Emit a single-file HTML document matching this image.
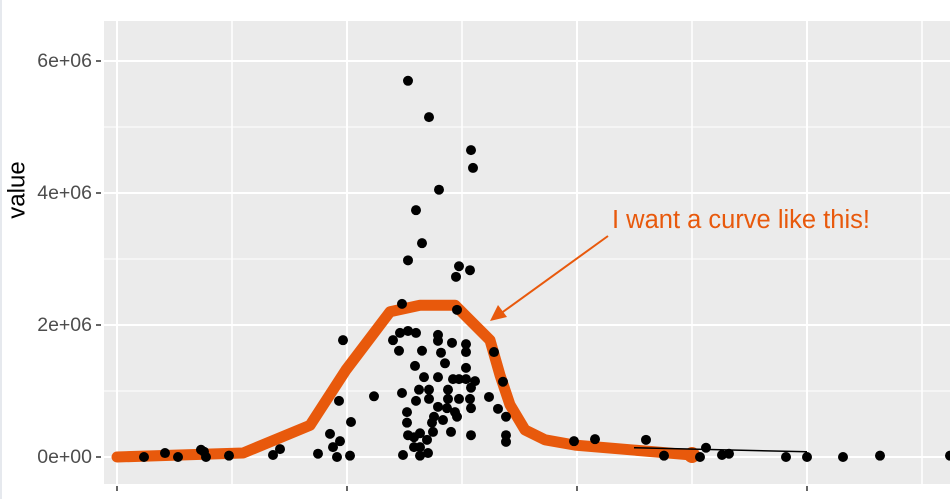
<!DOCTYPE html>
<html><head><meta charset="utf-8"><style>
body{margin:0;background:#fff}
svg{display:block;font-family:"Liberation Sans",sans-serif}
</style></head><body>
<svg id="chart" width="950" height="499">
<rect x="0" y="0" width="950" height="499" fill="#fff"/>
<rect x="0" y="0" width="2" height="499" fill="#e6e9ee"/>
<g id="grid"></g><g id="axes"></g><g id="marks"></g>
<text x="17" y="190" transform="rotate(-90 17 190)" text-anchor="middle" dominant-baseline="central" font-size="24" fill="#000">value</text>
<text x="612" y="228" font-size="25.5" fill="#e8590c">I want a curve like this!</text>
<line x1="608" y1="236" x2="500" y2="314" stroke="#e8590c" stroke-width="2"/>
<polygon points="490,321 498,305 507,317" fill="#e8590c"/>
</svg>
<script>
const yTicks=[0,2,4,6];
const yTickLabels=["0e+00","2e+06","4e+06","6e+06"];
const xMajor=[0,230,460,690];
const pointsX=[27,48,61,84,87,89,112,156,163,201,213,216,220,223,226,222,234,233,257,276,283,285,291,299,282,305,298,307,321,321,335,349,349,324,328,349,321,336,342,349,358,285,302,312,299,312,331,342,353,331,354,372,381,389,389,389,354,354,321,330,338,290,317,326,315,334,290,291,286,303,310,303,311,303,297,297,316,340,377,386,340,291,312,299,305,291,322,342,339,354,356,353,457,478,529,547,583,589,605,612,669,690,726,763,833];
const pointsY=[0,0.06,0,0.11,0.08,0,0.02,0.03,0.12,0.05,0.35,0.15,0,0.24,1.77,0.85,0.53,0.02,0.92,1.77,1.88,2.32,1.91,1.88,1.61,1.61,1.38,1.21,1.85,1.76,1.73,1.71,1.59,1.58,1.42,1.35,1.21,1.18,1.18,1.18,1.15,0.97,1.02,1.02,0.85,0.88,0.88,0.88,0.88,1.02,1.05,0.91,0.73,0.61,0.33,0.23,0.74,0.33,0.76,0.74,0.68,0.68,0.61,0.56,0.52,0.38,0.52,0.33,0.03,0.36,0.26,0.15,0.06,0.02,0.15,0.3,0.38,0.61,1.59,1.14,2.23,5.70,5.15,3.74,3.24,2.98,4.05,2.89,2.73,4.65,4.38,2.83,0.24,0.27,0.26,0.02,0,0.14,0.03,0.05,0,0,0,0.02,0.02];
const curveX=[0,126,193,229,273,303,338,373,383,393,408,428,458,575];
const curveY=[0,0.06,0.48,1.32,2.2,2.3,2.3,1.77,1.24,0.79,0.41,0.26,0.18,0.03];
const segX=[517,690];
const segY=[0.14,0.08];

const NS="http://www.w3.org/2000/svg";
const sx=v=>117+v;
const sy=v=>457-v*66;
function mk(tag,attrs,parent){const e=document.createElementNS(NS,tag);for(const k in attrs)e.setAttribute(k,attrs[k]);parent.appendChild(e);return e;}
const grid=document.getElementById('grid'),axes=document.getElementById('axes'),marks=document.getElementById('marks');
const panel=mk('rect',{x:104,y:21,width:846,height:463,fill:'#ebebeb'},grid);


for(let i=0;i<yTicks.length;i++){
  const y=sy(yTicks[i]);
  const g=mk('line',{x1:104,x2:950,y1:y,y2:y,stroke:'#fff','stroke-width':2},grid);
  
  
  if(i<yTicks.length-1){const ym=sy(yTicks[i]+1);
    const m=mk('line',{x1:104,x2:950,y1:ym,y2:ym,stroke:'#fff','stroke-width':1},grid);
    
    }
  const t=mk('line',{x1:96,x2:101,y1:y,y2:y,stroke:'#333','stroke-width':1.5},axes);
  
  
  const l=mk('text',{x:92,y:y,'text-anchor':'end','dominant-baseline':'central','font-size':19.5,fill:'#4d4d4d'},axes);
  l.textContent=yTickLabels[i];
  
  
}
for(let i=0;i<xMajor.length;i++){
  const x=sx(xMajor[i]);
  const g=mk('line',{x1:x,x2:x,y1:21,y2:484,stroke:'#fff','stroke-width':2},grid);
  
  
  const xm=sx(xMajor[i]+115);
  const m=mk('line',{x1:xm,x2:xm,y1:21,y2:484,stroke:'#fff','stroke-width':1.5},grid);
  
  
  const t=mk('line',{x1:x,x2:x,y1:486,y2:491,stroke:'#333','stroke-width':1.5},axes);
  
  
}
const pts=curveX.map((v,i)=>sx(v)+','+sy(curveY[i])).join(' ');
const curve=mk('polyline',{points:pts,fill:'none',stroke:'#e8590c','stroke-width':11,'stroke-linejoin':'round','stroke-linecap':'round'},marks);


const endDot=mk('circle',{cx:sx(curveX[curveX.length-1]),cy:sy(curveY[curveY.length-1]),r:8,fill:'#e8590c'},marks);


const seg=mk('line',{x1:sx(segX[0]),y1:sy(segY[0]),x2:sx(segX[1]),y2:sy(segY[1]),stroke:'#000','stroke-width':1.5},marks);


for(let i=0;i<pointsX.length;i++){
  const c=mk('circle',{cx:sx(pointsX[i]),cy:sy(pointsY[i]),r:5,fill:'#000'},marks);
  
  
}
</script>
</body></html>
